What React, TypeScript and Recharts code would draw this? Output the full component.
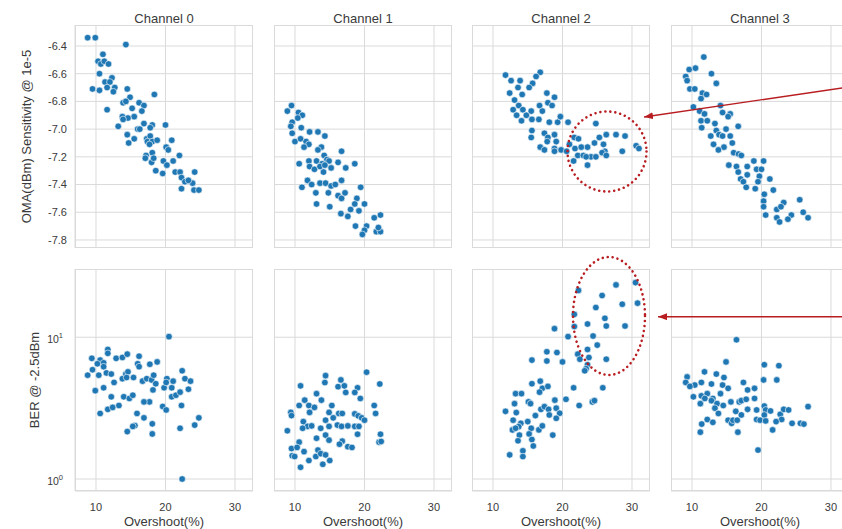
import React from 'react';
import { ScatterChart, Scatter, XAxis, YAxis, CartesianGrid } from 'recharts';

type Pt = [number, number];

const channels = ['Channel 0', 'Channel 1', 'Channel 2', 'Channel 3'];
const xTicks = [10, 20, 30];
const omaTicks = [-6.4, -6.6, -6.8, -7.0, -7.2, -7.4, -7.6, -7.8];
const berTicks = [1, 10];
const xDomain: [number, number] = [6.98, 32.59];
const omaDomain: [number, number] = [-7.858, -6.2485];
const berDomain: [number, number] = [0.823, 30.3];
const xLabel = 'Overshoot(%)';
const omaLabel = 'OMA(dBm) Sensitivity @ 1e-5';
const berLabel = 'BER @ -2.5dBm';

const ch0Oma: Pt[] = [[8.8,-6.34],[9.9,-6.34],[14.3,-6.39],[11.0,-6.46],[10.3,-6.51],[10.7,-6.53],[11.2,-6.51],[11.8,-6.53],[10.5,-6.6],[12.3,-6.63],[11.3,-6.66],[12.0,-6.66],[12.7,-6.7],[11.6,-6.7],[12.5,-6.73],[10.5,-6.72],[9.5,-6.71],[14.5,-6.71],[18.4,-6.75],[14.9,-6.77],[13.9,-6.81],[14.3,-6.8],[11.6,-6.86],[16.2,-6.81],[16.9,-6.83],[16.6,-6.87],[15.2,-6.85],[15.5,-6.91],[13.8,-6.91],[14.6,-6.92],[13.9,-6.93],[16.0,-7.0],[16.3,-7.0],[13.2,-6.98],[16.9,-6.96],[18.1,-6.97],[17.8,-6.99],[20.0,-6.97],[14.5,-7.04],[15.5,-7.07],[14.7,-7.1],[17.3,-7.07],[17.8,-7.05],[17.4,-7.09],[18.1,-7.09],[17.7,-7.11],[18.8,-7.08],[20.9,-7.08],[20.1,-7.13],[20.4,-7.15],[18.1,-7.17],[17.2,-7.19],[17.1,-7.21],[18.0,-7.24],[18.3,-7.21],[18.6,-7.3],[19.6,-7.32],[19.7,-7.23],[20.2,-7.26],[21.1,-7.23],[22.0,-7.19],[21.4,-7.31],[22.1,-7.31],[22.3,-7.35],[22.8,-7.38],[22.3,-7.43],[23.9,-7.39],[24.2,-7.31],[24.1,-7.44],[24.8,-7.44],[23.3,-7.37]];
const ch0Ber: Pt[] = [[20.5,10.1],[11.7,8.2],[11.7,7.7],[9.4,7.1],[10.6,6.9],[11.1,6.6],[10.2,6.5],[11.1,6.2],[9.5,5.9],[8.8,5.4],[10.4,5.4],[11.5,5.6],[12.2,5.5],[12.9,7.1],[13.8,7.2],[14.5,7.6],[16.2,7.35],[16.0,6.5],[16.2,6.2],[17.75,6.45],[18.8,6.7],[13.8,5.1],[14.3,5.5],[14.6,5.7],[14.4,5.2],[15.4,5.2],[12.6,4.8],[11.1,4.4],[9.9,4.2],[16.7,4.9],[17.3,5.1],[18.0,5.0],[18.3,5.4],[18.6,4.7],[18.2,4.25],[19.8,4.4],[20.2,5.1],[20.1,4.8],[20.9,4.4],[21.1,4.9],[22.4,5.8],[22.8,5.1],[23.6,4.9],[23.3,4.3],[12.2,3.8],[14.0,3.8],[14.8,3.7],[15.3,3.9],[20.9,3.8],[21.5,3.9],[22.1,4.1],[17.7,3.5],[16.9,3.5],[11.7,3.1],[12.4,3.2],[13.3,3.3],[19.6,3.25],[20.1,3.07],[22.3,3.3],[10.6,2.9],[15.9,2.9],[16.9,2.7],[24.8,2.7],[24.2,2.4],[15.6,2.38],[15.3,2.35],[14.5,2.16],[18.1,2.45],[18.1,2.08],[22.1,2.28],[22.4,1.0]];
const ch1Oma: Pt[] = [[9.5,-6.83],[8.9,-6.87],[10.5,-6.88],[11.05,-6.9],[9.6,-6.95],[9.4,-6.98],[10.4,-6.92],[10.9,-6.99],[9.6,-7.03],[12.1,-7.02],[13.3,-7.02],[14.3,-7.05],[10.0,-7.09],[10.8,-7.07],[11.6,-7.09],[12.0,-7.11],[11.3,-7.13],[13.8,-7.13],[13.3,-7.15],[16.7,-7.16],[14.2,-7.19],[14.6,-7.22],[10.6,-7.25],[12.0,-7.23],[13.1,-7.23],[13.9,-7.25],[14.9,-7.23],[16.2,-7.24],[18.6,-7.25],[12.1,-7.27],[12.8,-7.29],[13.6,-7.27],[14.3,-7.26],[15.2,-7.28],[17.3,-7.28],[14.1,-7.31],[11.8,-7.37],[12.4,-7.4],[11.0,-7.42],[13.6,-7.39],[14.4,-7.39],[15.2,-7.41],[15.8,-7.4],[16.7,-7.37],[14.8,-7.46],[13.0,-7.46],[17.2,-7.46],[19.45,-7.42],[16.2,-7.48],[16.7,-7.5],[18.9,-7.5],[13.1,-7.54],[15.0,-7.56],[20.0,-7.54],[18.6,-7.54],[18.0,-7.58],[19.2,-7.59],[16.6,-7.61],[17.6,-7.63],[21.4,-7.64],[22.3,-7.62],[18.7,-7.7],[20.3,-7.7],[20.0,-7.73],[19.7,-7.76],[21.7,-7.74],[22.3,-7.74],[22.0,-7.71]];
const ch1Ber: Pt[] = [[20.3,5.67],[14.4,5.36],[22.2,4.68],[14.3,4.79],[16.6,5.0],[16.2,4.48],[17.1,4.54],[17.3,4.08],[19.0,4.4],[18.6,4.08],[10.8,4.54],[13.1,4.0],[13.8,3.6],[11.4,3.6],[19.4,3.7],[21.4,3.3],[21.6,2.9],[15.3,3.3],[10.6,3.3],[12.0,3.3],[12.8,3.2],[12.1,2.95],[14.9,2.95],[9.4,2.95],[9.5,2.8],[16.3,2.9],[16.8,2.9],[18.6,2.88],[19.1,2.79],[19.6,2.7],[20.0,2.6],[14.4,2.6],[15.5,2.7],[11.2,2.54],[11.8,2.35],[11.1,2.28],[12.4,2.37],[13.7,2.28],[14.9,2.35],[16.1,2.4],[16.7,2.35],[17.6,2.37],[18.6,2.35],[19.2,2.35],[19.0,2.07],[8.9,2.19],[14.4,2.04],[13.1,1.94],[14.9,1.88],[16.8,1.85],[16.4,1.76],[17.6,1.69],[18.2,1.67],[22.3,2.07],[22.1,1.82],[22.4,1.84],[10.6,1.82],[9.5,1.64],[10.3,1.67],[9.6,1.46],[9.95,1.44],[11.3,1.56],[13.3,1.6],[13.0,1.44],[13.7,1.51],[14.4,1.48],[12.0,1.35],[14.0,1.27],[15.0,1.35],[10.8,1.21]];
const ch2Oma: Pt[] = [[11.8,-6.61],[16.8,-6.59],[16.2,-6.62],[12.6,-6.65],[13.9,-6.65],[15.7,-6.67],[13.6,-6.7],[15.2,-6.7],[12.4,-6.74],[14.2,-6.75],[17.75,-6.74],[13.1,-6.79],[18.85,-6.77],[13.7,-6.83],[17.9,-6.81],[18.5,-6.83],[16.7,-6.83],[12.9,-6.86],[14.3,-6.86],[15.5,-6.87],[13.4,-6.9],[14.8,-6.9],[17.1,-6.87],[14.1,-6.94],[15.6,-6.93],[16.6,-6.93],[18.1,-6.95],[19.3,-6.95],[19.7,-6.91],[20.8,-6.95],[24.8,-6.96],[15.6,-7.01],[15.5,-7.06],[17.4,-7.03],[18.85,-7.04],[17.9,-7.06],[21.7,-7.06],[22.3,-7.07],[17.8,-7.09],[19.1,-7.09],[16.8,-7.13],[17.4,-7.15],[18.85,-7.14],[19.8,-7.15],[18.85,-7.16],[20.6,-7.16],[26.3,-7.04],[27.7,-7.04],[29.0,-7.05],[25.3,-7.06],[30.6,-7.12],[31.0,-7.14],[28.6,-7.16],[24.6,-7.1],[23.6,-7.13],[25.9,-7.11],[21.0,-7.11],[21.8,-7.14],[22.7,-7.13],[26.1,-7.16],[22.2,-7.19],[23.0,-7.19],[24.1,-7.2],[24.8,-7.2],[23.4,-7.2],[25.7,-7.17],[26.3,-7.19],[21.6,-7.23],[23.6,-7.26]];
const ch2Ber: Pt[] = [[27.7,23.4],[30.5,24.3],[22.3,21.4],[25.7,19.7],[28.6,17.1],[30.8,17.4],[24.8,16.2],[21.7,14.5],[26.1,13.6],[21.7,11.9],[23.6,12.4],[26.3,12.0],[29.0,12.0],[18.85,11.5],[20.8,10.1],[24.4,10.2],[25.0,8.8],[23.6,8.2],[15.6,6.9],[17.75,7.9],[19.2,7.8],[17.75,6.8],[20.0,6.7],[22.2,7.6],[22.5,7.0],[23.8,7.2],[26.3,7.0],[23.6,6.4],[23.4,6.0],[23.2,5.8],[15.6,4.7],[16.8,4.9],[17.1,4.36],[17.9,4.5],[16.7,4.1],[21.6,4.4],[25.8,4.4],[13.25,4.0],[14.1,4.0],[18.9,3.6],[20.5,3.65],[13.1,3.4],[15.1,3.5],[15.4,3.4],[22.4,3.3],[24.3,3.5],[24.6,3.57],[11.8,3.0],[13.35,2.94],[16.9,3.1],[17.4,3.24],[18.0,3.1],[19.1,3.16],[18.1,2.83],[19.6,2.91],[19.1,2.68],[16.1,2.8],[15.0,2.54],[12.9,2.6],[14.0,2.47],[13.7,2.34],[12.8,2.22],[13.25,2.28],[15.5,2.28],[16.6,2.22],[17.1,2.37],[13.8,2.04],[15.2,2.08],[18.6,2.04],[13.6,1.86],[15.6,1.9],[15.8,1.71],[12.4,1.48],[14.3,1.58],[14.3,1.44]];
const ch3Oma: Pt[] = [[11.7,-6.48],[9.6,-6.57],[10.5,-6.56],[12.8,-6.6],[9.1,-6.62],[9.3,-6.65],[13.5,-6.67],[9.7,-6.71],[10.4,-6.71],[11.5,-6.74],[12.1,-6.75],[11.3,-6.78],[10.2,-6.84],[14.1,-6.83],[14.4,-6.88],[15.5,-6.89],[15.2,-6.91],[11.1,-6.87],[11.8,-6.89],[11.3,-6.94],[12.2,-6.94],[13.3,-6.96],[11.4,-6.99],[16.65,-6.98],[13.5,-7.01],[14.9,-7.0],[13.9,-7.04],[14.4,-7.05],[12.7,-7.05],[15.5,-7.05],[13.1,-7.11],[15.8,-7.1],[14.6,-7.13],[13.8,-7.15],[16.0,-7.17],[16.7,-7.18],[17.1,-7.19],[15.3,-7.26],[16.4,-7.27],[18.9,-7.23],[20.3,-7.23],[17.95,-7.27],[19.3,-7.29],[20.0,-7.29],[16.65,-7.31],[17.95,-7.33],[17.0,-7.36],[19.7,-7.34],[21.2,-7.36],[17.4,-7.38],[19.5,-7.38],[17.8,-7.42],[19.1,-7.43],[21.7,-7.44],[20.4,-7.47],[20.3,-7.52],[23.2,-7.53],[25.5,-7.51],[20.3,-7.56],[22.2,-7.58],[22.8,-7.56],[26.0,-7.6],[20.6,-7.62],[24.3,-7.62],[26.7,-7.64],[22.2,-7.64],[23.8,-7.65],[22.6,-7.67]];
const ch3Ber: Pt[] = [[16.4,9.6],[14.9,6.7],[20.4,6.4],[22.5,6.3],[11.8,5.7],[13.5,5.5],[9.3,5.25],[14.6,5.2],[20.3,5.0],[22.2,5.0],[9.1,4.8],[10.4,4.6],[11.35,4.8],[12.8,4.68],[9.7,4.5],[14.4,4.6],[15.2,4.36],[17.4,4.8],[18.0,4.25],[19.0,4.36],[10.2,3.8],[11.35,3.86],[12.2,4.0],[11.85,3.7],[13.0,3.7],[14.1,4.0],[12.8,3.57],[13.6,3.4],[14.5,3.3],[15.6,3.5],[16.8,3.5],[17.1,3.57],[17.8,3.65],[19.0,3.7],[11.2,3.4],[13.3,3.16],[13.8,2.9],[16.3,3.0],[18.0,3.1],[17.1,2.83],[19.3,3.07],[20.4,3.27],[20.6,3.07],[20.4,2.83],[19.3,2.63],[19.8,2.6],[20.6,2.57],[21.3,3.02],[22.7,2.86],[23.2,3.1],[23.9,3.07],[22.9,2.63],[22.1,2.54],[24.4,2.47],[25.6,2.47],[26.1,2.44],[26.7,3.24],[15.2,2.6],[15.7,2.47],[15.9,2.6],[16.5,2.6],[12.2,2.63],[13.0,2.51],[11.4,2.44],[11.2,2.14],[16.6,2.14],[21.6,2.22],[19.5,1.6]];

const omaSeries = [ch0Oma, ch1Oma, ch2Oma, ch3Oma];
const berSeries = [ch0Ber, ch1Ber, ch2Ber, ch3Ber];

// layout (pixels)
const PL = [75, 274, 472, 671];
const PW = 178;
const PT = [25, 269];
const PH = [223, 222];
const YW = 75;
const XH = 38;
const GRID = '#dadada';
const TXT = '#3a3a3a';
const DOT = '#1f77b4';
const RED = '#b81d22';
const FONT = '"Liberation Sans", Arial, Helvetica, sans-serif';

const Dot = (props: any) => {
  const { cx, cy } = props;
  if (cx == null || cy == null) return null;
  return <circle cx={cx} cy={cy} r={3.3} fill={DOT} stroke="#ffffff" strokeWidth={0.6} />;
};

const LogTick = (props: any) => {
  const { x, y, payload } = props;
  const exp = Math.round(Math.log10(payload.value));
  return (
    <text x={x - 4} y={y + 5.5} textAnchor="end" fill={TXT} fontSize={10.5} fontFamily={FONT}>
      <tspan>10</tspan>
      <tspan dy={-4.5} fontSize={7.5}>{exp}</tspan>
    </text>
  );
};

function Panel({ row, col }: { row: number; col: number }) {
  const showY = col === 0;
  const showX = row === 1;
  const left = PL[col] - (showY ? YW : 0);
  const top = PT[row];
  const w = PW + (showY ? YW : 0);
  const h = PH[row] + (showX ? XH : 0);
  const pts = (row === 0 ? omaSeries : berSeries)[col].map(([x, y]) => ({ x, y }));
  return (
    <>
      <div
        style={{
          position: 'absolute',
          left: PL[col],
          top: PT[row],
          width: PW,
          height: PH[row],
          boxSizing: 'border-box',
          border: `1px solid ${GRID}`,
        }}
      />
      <div style={{ position: 'absolute', left, top, width: w, height: h }}>
        <ScatterChart width={w} height={h} margin={{ top: 0, right: 0, bottom: 0, left: 0 }}>
          <CartesianGrid stroke={GRID} strokeWidth={1} />
          <XAxis
            type="number"
            dataKey="x"
            domain={xDomain}
            ticks={xTicks}
            interval={0}
            allowDataOverflow
            hide={!showX}
            height={XH}
            tickLine={false}
            axisLine={false}
            tickMargin={6}
            tick={{ fontSize: 11, fill: TXT }}
          />
          {row === 0 ? (
            <YAxis
              type="number"
              dataKey="y"
              domain={omaDomain}
              ticks={omaTicks}
              interval={0}
              allowDataOverflow
              hide={!showY}
              width={YW}
              tickLine={false}
              axisLine={false}
              tick={{ fontSize: 11, fill: TXT }}
              tickFormatter={(v: number) => v.toFixed(1)}
            />
          ) : (
            <YAxis
              type="number"
              dataKey="y"
              scale="log"
              domain={berDomain}
              ticks={berTicks}
              interval={0}
              allowDataOverflow
              hide={!showY}
              width={YW}
              tickLine={false}
              axisLine={false}
              tick={<LogTick />}
            />
          )}
          <Scatter data={pts} isAnimationActive={false} shape={Dot} />
        </ScatterChart>
      </div>
    </>
  );
}

export default function App() {
  const rows = [0, 1];
  const cols = [0, 1, 2, 3];
  return (
    <div
      style={{
        position: 'absolute',
        left: 0,
        top: 0,
        width: 842,
        height: 529,
        overflow: 'hidden',
        background: '#ffffff',
        fontFamily: FONT,
      }}
    >
      {rows.map((r) => cols.map((c) => <Panel key={`${r}-${c}`} row={r} col={c} />))}
      <svg
        width={842}
        height={529}
        style={{ position: 'absolute', left: 0, top: 0, pointerEvents: 'none', overflow: 'hidden' }}
      >
        <defs>
          <marker id="ah" markerWidth={10} markerHeight={8} refX={9} refY={3.5} orient="auto" markerUnits="userSpaceOnUse">
            <path d="M0,0 L9,3.5 L0,7 z" fill={RED} />
          </marker>
        </defs>
        {channels.map((t, i) => (
          <text key={t} x={PL[i] + PW / 2} y={23} textAnchor="middle" fontSize={13} fill={TXT} fontFamily={FONT}>
            {t}
          </text>
        ))}
        {cols.map((i) => (
          <text key={`xl${i}`} x={PL[i] + PW / 2} y={525.5} textAnchor="middle" fontSize={13} fill={TXT} fontFamily={FONT}>
            {xLabel}
          </text>
        ))}
        <text
          x={31}
          y={PT[0] + PH[0] / 2}
          textAnchor="middle"
          fontSize={13}
          fill={TXT}
          fontFamily={FONT}
          transform={`rotate(-90, 31, ${PT[0] + PH[0] / 2})`}
        >
          {omaLabel}
        </text>
        <text
          x={39}
          y={PT[1] + PH[1] / 2}
          textAnchor="middle"
          fontSize={13}
          fill={TXT}
          fontFamily={FONT}
          transform={`rotate(-90, 39, ${PT[1] + PH[1] / 2})`}
        >
          {berLabel}
        </text>
        <ellipse cx={607} cy={151.5} rx={39.5} ry={40} fill="none" stroke={RED} strokeWidth={2.6} strokeDasharray="0.01 5" strokeLinecap="round" />
        <ellipse cx={609} cy={316} rx={36} ry={59} fill="none" stroke={RED} strokeWidth={2.6} strokeDasharray="0.01 5" strokeLinecap="round" />
        <line x1={860} y1={85.3} x2={644} y2={117} stroke={RED} strokeWidth={1.4} markerEnd="url(#ah)" />
        <line x1={860} y1={316.7} x2={658} y2={316.7} stroke={RED} strokeWidth={1.4} markerEnd="url(#ah)" />
      </svg>
    </div>
  );
}
